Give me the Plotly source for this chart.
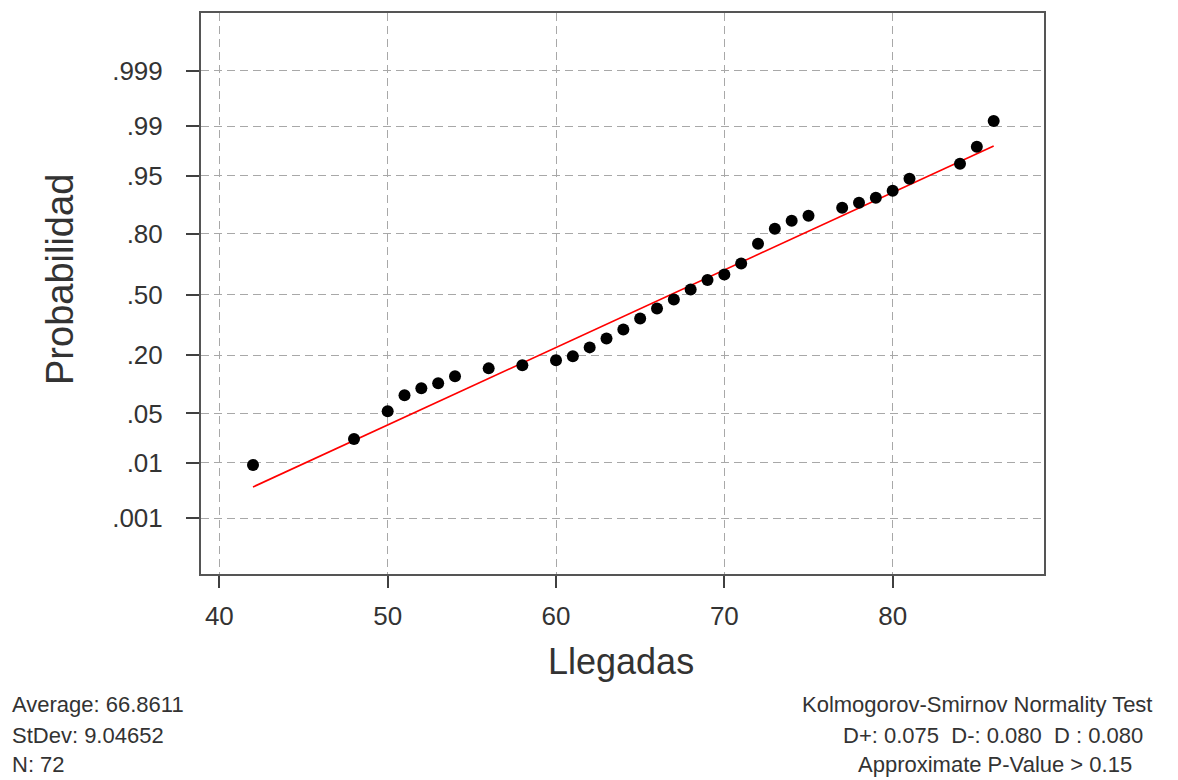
import math
import plotly.graph_objects as go

# ---- data ----
llegadas = [42, 48, 50, 51, 52, 53, 54, 56, 58, 60, 61, 62, 63, 64, 65, 66, 67,
            68, 69, 70, 71, 72, 73, 74, 75, 77, 78, 79, 80, 81, 84, 85, 86]
probabilidad = [0.0092, 0.0228, 0.0533, 0.0818, 0.0973, 0.1097, 0.129, 0.1536,
                0.1638, 0.1814, 0.1963, 0.2324, 0.272, 0.3146, 0.3703, 0.4235,
                0.4725, 0.5275, 0.5793, 0.6087, 0.6657, 0.759, 0.8186, 0.8464,
                0.8621, 0.8849, 0.8978, 0.9096, 0.9242, 0.9452, 0.9646, 0.9794,
                0.9918]
line_x = [42, 86]
line_prob = [0.0039, 0.980]
tick_probs = [0.001, 0.01, 0.05, 0.20, 0.50, 0.80, 0.95, 0.99, 0.999]
tick_text = [".001", ".01", ".05", ".20", ".50", ".80", ".95", ".99", ".999"]
x_ticks = [40, 50, 60, 70, 80]

stats_left = ["Average: 66.8611", "StDev: 9.04652", "N: 72"]
stats_right = ["Kolmogorov-Smirnov Normality Test",
               "D+: 0.075  D-: 0.080  D : 0.080",
               "Approximate P-Value > 0.15"]


def norm_ppf(p):
    # Acklam's rational approximation of the inverse normal CDF
    a = [-3.969683028665376e+01, 2.209460984245205e+02, -2.759285104469687e+02,
         1.383577518672690e+02, -3.066479806614716e+01, 2.506628277459239e+00]
    b = [-5.447609879822406e+01, 1.615858368580409e+02, -1.556989798598866e+02,
         6.680131188771972e+01, -1.328068155288572e+01]
    c = [-7.784894002430293e-03, -3.223964580411365e-01, -2.400758277161838e+00,
         -2.549732539343734e+00, 4.374664141464968e+00, 2.938163982698783e+00]
    d = [7.784695709041462e-03, 3.224671290700398e-01, 2.445134137142996e+00,
         3.754408661907416e+00]
    plow = 0.02425
    phigh = 1 - plow
    if p < plow:
        q = math.sqrt(-2 * math.log(p))
        return (((((c[0]*q+c[1])*q+c[2])*q+c[3])*q+c[4])*q+c[5]) / \
               ((((d[0]*q+d[1])*q+d[2])*q+d[3])*q+1)
    if p > phigh:
        q = math.sqrt(-2 * math.log(1 - p))
        return -(((((c[0]*q+c[1])*q+c[2])*q+c[3])*q+c[4])*q+c[5]) / \
                ((((d[0]*q+d[1])*q+d[2])*q+d[3])*q+1)
    q = p - 0.5
    r = q * q
    return (((((a[0]*r+a[1])*r+a[2])*r+a[3])*r+a[4])*r+a[5])*q / \
           (((((b[0]*r+b[1])*r+b[2])*r+b[3])*r+b[4])*r+1)


FONT = "Liberation Sans, Arial, sans-serif"
TXT = "#333333"
GRID = "#a8a8a8"

fig = go.Figure()
fig.add_trace(go.Scatter(
    x=line_x, y=[norm_ppf(p) for p in line_prob], mode="lines",
    line=dict(color="#ff0000", width=1.6), hoverinfo="skip", showlegend=False))
fig.add_trace(go.Scatter(
    x=llegadas, y=[norm_ppf(p) for p in probabilidad], mode="markers",
    marker=dict(color="black", size=12), showlegend=False))

fig.update_xaxes(
    range=[38.91, 88.99], tickvals=x_ticks, ticks="outside", ticklen=12,
    tickwidth=2, tickcolor="#404040", showline=True, mirror=True,
    linecolor="#555555", linewidth=2, showgrid=True, gridcolor=GRID,
    griddash="8px,5px", gridwidth=1, zeroline=False, ticklabelstandoff=6,
    tickfont=dict(family=FONT, size=26, color=TXT))
fig.update_yaxes(
    range=[-3.864, 3.892], tickvals=[norm_ppf(p) for p in tick_probs],
    ticktext=tick_text, ticks="outside", ticklen=13, tickwidth=2,
    tickcolor="#404040", showline=True, mirror=True, linecolor="#555555",
    linewidth=2, showgrid=True, gridcolor=GRID, griddash="8px,5px",
    gridwidth=1, zeroline=False, ticklabelstandoff=18,
    tickfont=dict(family=FONT, size=26, color=TXT))

ann = []
ann.append(dict(text="Llegadas", x=621, y=662,
                font=dict(family=FONT, size=36, color=TXT)))
ann.append(dict(text="Probabilidad", textangle=-90, x=60, y=280,
                font=dict(family=FONT, size=38, color=TXT)))
left_y = [704, 735, 764]
for t, yy in zip(stats_left, left_y):
    ann.append(dict(text=t, x=10, y=yy, xanchor="left",
                    font=dict(family=FONT, size=22, color=TXT)))
right_cx = [977, 993, 995]
for t, yy, cx in zip(stats_right, left_y, right_cx):
    ann.append(dict(text=t, x=cx, y=yy, xanchor="center",
                    font=dict(family=FONT, size=22, color=TXT)))

# convert pixel placements to paper coordinates
L, R, T, B = 201, 1044, 13, 574
W, H = 1178, 780
for a in ann:
    px, py = a["x"], a["y"]
    a["x"] = (px - L) / (R - L)
    a["y"] = (B - py) / (B - T)
    a["xref"] = "paper"
    a["yref"] = "paper"
    a["showarrow"] = False
    a.setdefault("yanchor", "middle")
    a.setdefault("xanchor", "center")

fig.update_layout(
    width=W, height=H, autosize=False,
    margin=dict(l=L, r=W - R, t=T, b=H - B),
    paper_bgcolor="white", plot_bgcolor="white",
    annotations=ann, showlegend=False)

fig.write_html("out.html", include_plotlyjs=True, config={"displayModeBar": False})
